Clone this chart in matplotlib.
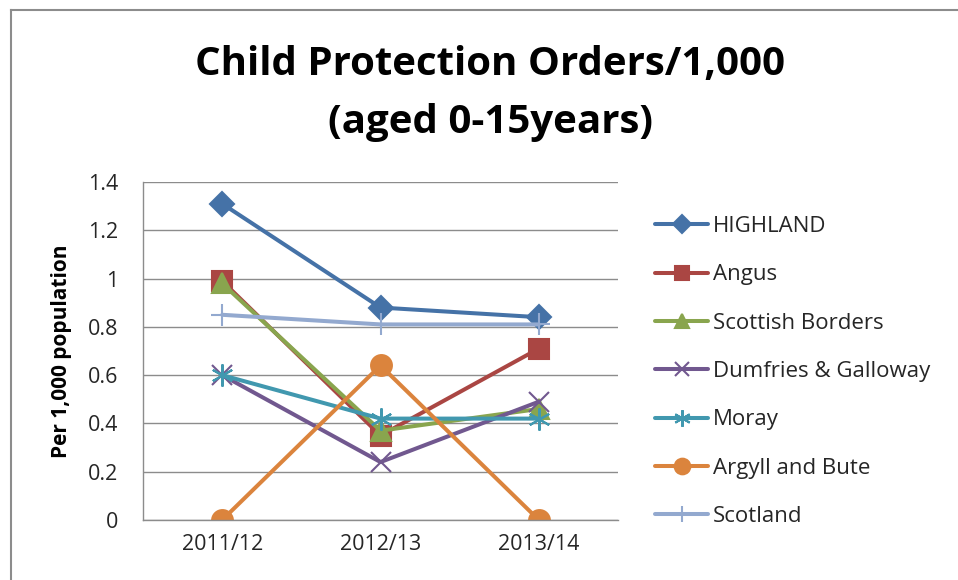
import matplotlib
matplotlib.use("Agg")
import matplotlib.pyplot as plt
from matplotlib.lines import Line2D

years = ["2011/12", "2012/13", "2013/14"]
highland = [1.31, 0.88, 0.84]
angus = [0.99, 0.35, 0.71]
borders = [0.98, 0.37, 0.46]
dumfries = [0.60, 0.24, 0.49]
moray = [0.60, 0.42, 0.42]
argyll = [0.0, 0.64, 0.0]
scotland = [0.85, 0.81, 0.81]

series = [
    ("HIGHLAND", highland, "#4572A7", "D", 12),
    ("Angus", angus, "#AA4643", "s", 14),
    ("Scottish Borders", borders, "#89A54E", "^", 14),
    ("Dumfries & Galloway", dumfries, "#71588F", "x", 14),
    ("Moray", moray, "#4198AF", (6, 2, 0), 16),
    ("Argyll and Bute", argyll, "#DB843D", "o", 15),
    ("Scotland", scotland, "#93A9CF", "+", 16),
]

plt.rcParams['font.family'] = ['Open Sans', 'DejaVu Sans']
txt = '#262626'

fig = plt.figure(figsize=(9.58, 5.8), dpi=100)
ax = fig.add_axes([143/958, 1-520/580, (618-143)/958, (520-182)/580])

x = list(range(len(years)))
for name, vals, color, marker, ms in series:
    ax.plot(x, vals, color=color, lw=2.9, marker=marker, ms=ms,
            markeredgecolor=color, markerfacecolor=color, markeredgewidth=1.5,
            label=name, solid_capstyle='round')

ax.set_xlim(-0.5, 2.5)
ax.set_ylim(0, 1.4)
ax.set_yticks([0, 0.2, 0.4, 0.6, 0.8, 1.0, 1.2, 1.4])
ax.set_yticklabels(["0", "0.2", "0.4", "0.6", "0.8", "1", "1.2", "1.4"])
ax.set_xticks(x)
ax.set_xticklabels(years)
ax.tick_params(axis='both', length=0, labelsize=15.5, colors=txt)
ax.tick_params(axis='y', pad=18)
ax.tick_params(axis='x', pad=10)
ax.yaxis.grid(True, color='#8c8c8c', lw=1)
ax.set_axisbelow(True)
for s in ['top', 'right']:
    ax.spines[s].set_visible(False)
for s in ['left', 'bottom']:
    ax.spines[s].set_color('#8c8c8c')
    ax.spines[s].set_linewidth(1)

fig.text(62/958, 1-351/580, "Per 1,000 population", rotation=90, ha='center', va='center',
         fontsize=15, fontweight='bold', color='black')

fig.text(0.512, 1-65/580, "Child Protection Orders/1,000", ha='center', va='center',
         fontsize=29, fontweight='bold')
fig.text(0.512, 1-122/580, "(aged 0-15years)", ha='center', va='center',
         fontsize=29, fontweight='bold')

leg = fig.legend(loc='upper left', bbox_to_anchor=(655/958, 1-216/580), frameon=False,
                 fontsize=16, handlelength=2.4, handletextpad=0.2, labelspacing=1.23,
                 borderaxespad=0, borderpad=0, markerscale=0.75)
for t in leg.get_texts():
    t.set_color(txt)

# frame (top and left border)
fig.add_artist(Line2D([11/958, 1], [1-10/580, 1-10/580], color='#8c8c8c', lw=1.5,
                      transform=fig.transFigure))
fig.add_artist(Line2D([11/958, 11/958], [0, 1-10/580], color='#8c8c8c', lw=1.5,
                      transform=fig.transFigure))

fig.savefig("out.png", dpi=100)
